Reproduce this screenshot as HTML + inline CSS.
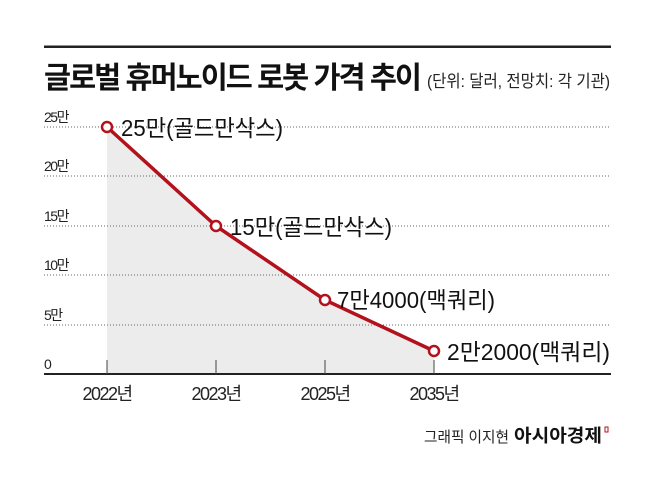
<!DOCTYPE html>
<html><head><meta charset="utf-8"><style>
body{margin:0;background:#fff;width:658px;height:493px;overflow:hidden;font-family:"Liberation Sans","Noto Sans CJK KR",sans-serif}
</style></head><body>
<svg width="658" height="493" xmlns="http://www.w3.org/2000/svg" style="font-family:'Liberation Sans','Noto Sans CJK KR',sans-serif">
<rect x="44" y="45.5" width="567" height="2.5" fill="#222"/>
<text x="44" y="88" font-size="30" font-weight="bold" fill="#111" letter-spacing="-2" textLength="376" lengthAdjust="spacingAndGlyphs">글로벌 휴머노이드 로봇 가격 추이</text>
<text x="427" y="87" font-size="17" fill="#222" textLength="183" lengthAdjust="spacingAndGlyphs">(단위: 달러, 전망치: 각 기관)</text>
<polygon points="107,127 216,226 325,300 434,351 434,374 107,374" fill="#ececec"/>
<g stroke="#666" stroke-width="1" stroke-dasharray="1,2">
<line x1="44" y1="127" x2="611" y2="127"/><line x1="44" y1="176" x2="611" y2="176"/>
<line x1="44" y1="226" x2="611" y2="226"/><line x1="44" y1="275" x2="611" y2="275"/>
<line x1="44" y1="325" x2="611" y2="325"/></g>
<g font-size="14" fill="#222" letter-spacing="-1.5">
<text x="44" y="122">25만</text><text x="44" y="171">20만</text><text x="44" y="221">15만</text>
<text x="44" y="270">10만</text><text x="44" y="320">5만</text><text x="44" y="369">0</text></g>
<rect x="44" y="373" width="567" height="2" fill="#222"/>
<g stroke="#444" stroke-width="1"><line x1="107" y1="360" x2="107" y2="374"/><line x1="216" y1="360" x2="216" y2="374"/><line x1="325" y1="360" x2="325" y2="374"/><line x1="434" y1="360" x2="434" y2="374"/></g>
<polyline points="107,127 216,226 325,300 434,351" fill="none" stroke="#b3121d" stroke-width="3.5"/>
<g fill="#fff" stroke="#b3121d" stroke-width="2.5">
<circle cx="107" cy="127" r="5"/><circle cx="216" cy="226" r="5"/><circle cx="325" cy="300" r="5"/><circle cx="434" cy="351" r="5"/></g>
<g font-size="23" fill="#111" lengthAdjust="spacingAndGlyphs">
<text x="121" y="136" textLength="162" lengthAdjust="spacingAndGlyphs">25만(골드만삭스)</text>
<text x="230" y="235" textLength="162" lengthAdjust="spacingAndGlyphs">15만(골드만삭스)</text>
<text x="337" y="308" textLength="158" lengthAdjust="spacingAndGlyphs">7만4000(맥쿼리)</text>
<text x="447" y="360" textLength="163" lengthAdjust="spacingAndGlyphs">2만2000(맥쿼리)</text></g>
<g font-size="18" fill="#222" text-anchor="middle" letter-spacing="-1.5">
<text x="107" y="400">2022년</text><text x="216" y="400">2023년</text><text x="325" y="400">2025년</text><text x="434" y="400">2035년</text></g>
<text x="424" y="442" font-size="15" fill="#222" textLength="85" lengthAdjust="spacingAndGlyphs">그래픽 이지현</text>
<text x="514" y="442" font-size="18" font-weight="bold" fill="#111" textLength="88" lengthAdjust="spacingAndGlyphs">아시아경제</text>
<rect x="605" y="427" width="3" height="5" fill="none" stroke="#b3121d" stroke-width="1"/>
</svg>
</body></html>
